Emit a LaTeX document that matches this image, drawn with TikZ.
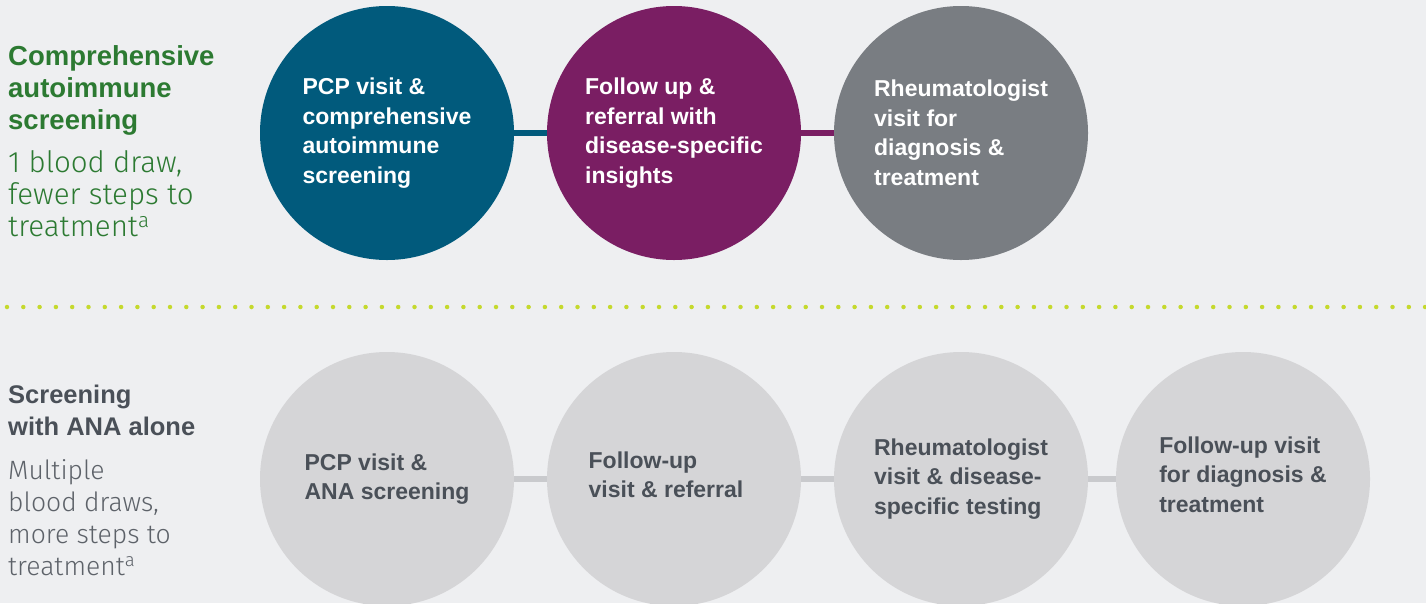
\documentclass[tikz,border=0pt]{standalone}
\usepackage{fontspec}
\setmainfont{Liberation Sans}
\newfontfamily\lightfont{Fira Sans Light}
\definecolor{bg}{HTML}{EEEFF1}
\definecolor{teal1}{HTML}{015A7C}
\definecolor{plum1}{HTML}{7A1E63}
\definecolor{slate1}{HTML}{797D82}
\definecolor{pale1}{HTML}{D5D5D7}
\definecolor{paleline}{HTML}{C9CACD}
\definecolor{green1}{HTML}{2C7A32}
\definecolor{darktxt}{HTML}{4A5058}
\definecolor{graytxt}{HTML}{5D6269}
\definecolor{lime1}{HTML}{C5D92D}
\begin{document}
\begin{tikzpicture}[x=1pt,y=-1pt,
  stepcircle/.style={circle, minimum size=254pt, inner sep=0pt, align=left,
    font=\fontsize{23}{29.5}\selectfont\bfseries},
  topcircle/.style={stepcircle, text=white},
  botcircle/.style={stepcircle, fill=pale1, text=darktxt},
  circletext/.style={inner sep=0pt, align=left, text=darktxt,
    font=\fontsize{23}{29.5}\selectfont\bfseries},
  conn/.style={line width=6.5pt},
  sidetitle/.style={anchor=north west, inner sep=0pt, align=left,
    font=\fontsize{27.5}{32}\selectfont\bfseries},
  sidesub/.style={anchor=north west, inner sep=0pt, align=left,
    font=\fontsize{26.5}{32}\lightfont},
  dots/.style={line width=4.5pt, line cap=round, dash pattern=on 0pt off 16.3pt, draw=lime1}
]
\path[fill=bg] (0,0) rectangle (1426,603);
\useasboundingbox (0,0) rectangle (1426,603);

% top row
\node[topcircle, fill=teal1] (t1) at (387,133) {PCP visit \&\\comprehensive\\autoimmune\\screening};
\node[topcircle, fill=plum1] (t2) at (674,133) {Follow up \&\\referral with\\disease-specific\\insights};
\node[topcircle, fill=slate1] (t3) at (961,133) {Rheumatologist\\visit for\\diagnosis \&\\treatment};
\draw[conn, draw=teal1] (t1) -- (t2);
\draw[conn, draw=plum1] (t2) -- (t3);

% bottom row
\node[botcircle] (b1) at (387,479) {PCP visit \&\\ANA screening};
\node[botcircle] (b2) at (674,479) {};
\node[circletext] (b2t) at ([xshift=-8pt, yshift=4pt]b2.center) {Follow-up\\visit \& referral};
\node[botcircle] (b3) at (961,479) {Rheumatologist\\visit \& disease-\\specific testing};
\node[botcircle] (b4) at (1243,479) {};
\node[circletext] (b4t) at ([yshift=4.5pt]b4.center) {Follow-up visit\\for diagnosis \&\\treatment};
\draw[conn, draw=paleline] (b1) -- (b2);
\draw[conn, draw=paleline] (b2) -- (b3);
\draw[conn, draw=paleline] (b3) -- (b4);

% divider
\coordinate (dl) at (7,307);
\coordinate (dr) at (1426,307);
\draw[dots] (dl) -- (dr);

% side labels
\node[sidetitle, text=green1] (ttl1) at (8,45) {Comprehensive\\autoimmune\\screening};
\node[sidesub, text=green1, font=\fontsize{29.5}{32}\lightfont] (sub1) at (8,150) {1 blood draw,\\fewer steps to\\treatment\textsuperscript{a}};
\node[sidetitle, text=darktxt, font=\fontsize{25.5}{32}\selectfont\bfseries] (ttl2) at (8,385) {Screening\\with ANA alone};
\node[sidesub, text=graytxt] (sub2) at (8,459) {Multiple\\blood draws,\\more steps to\\treatment\textsuperscript{a}};
\end{tikzpicture}
\end{document}
